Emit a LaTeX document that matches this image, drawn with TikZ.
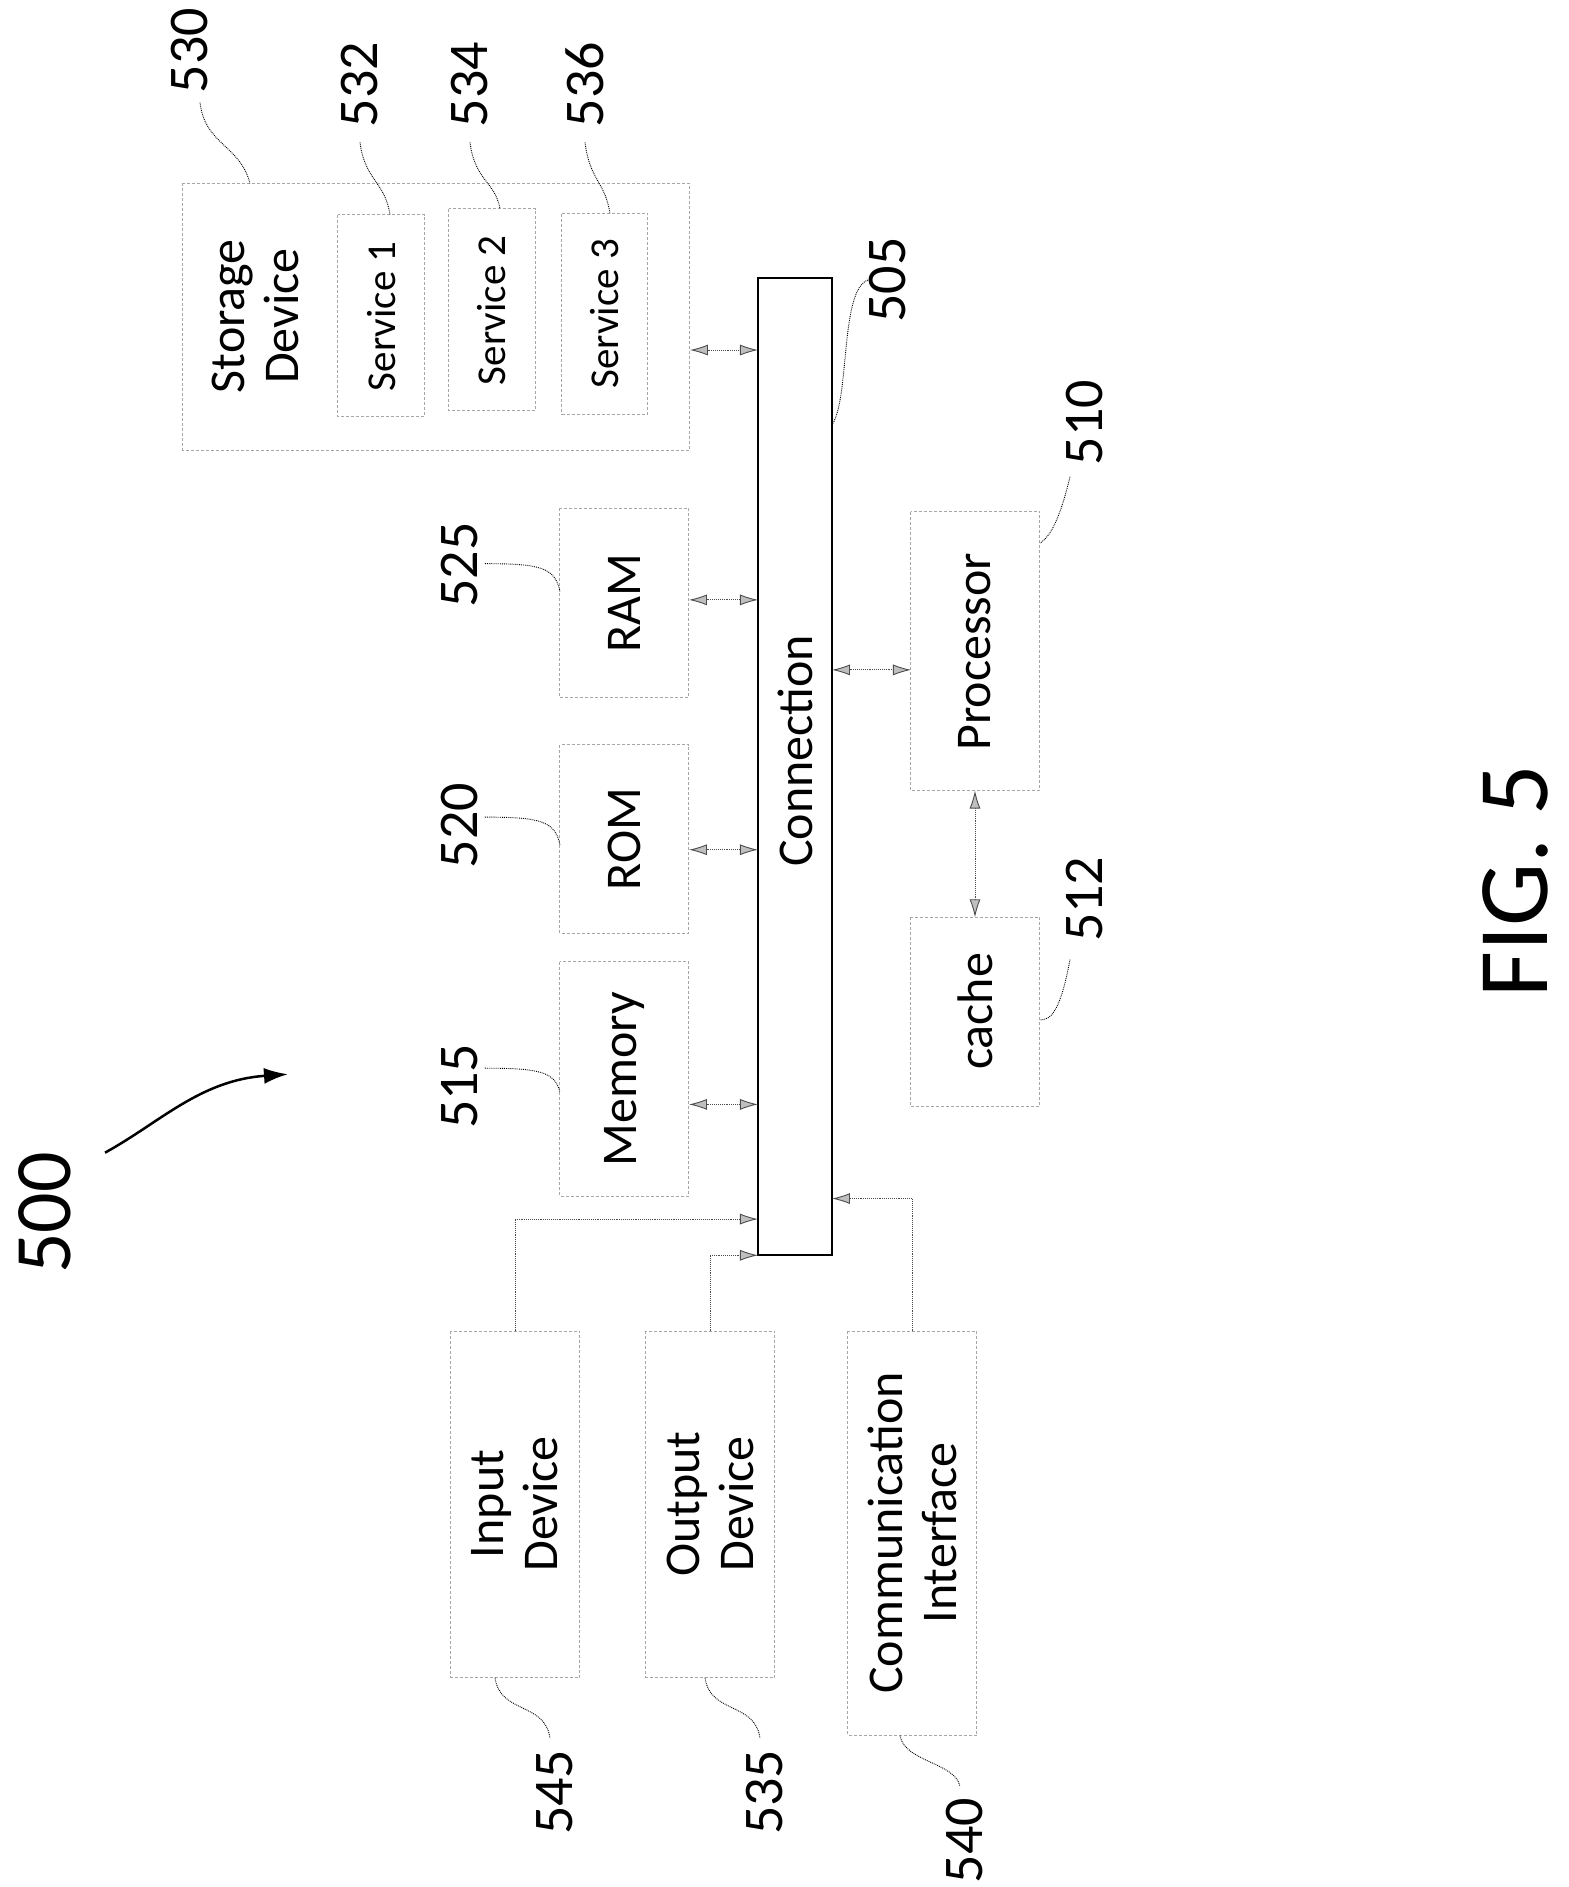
\documentclass[tikz,border=0pt]{standalone}
\usepackage{fontspec}
\setmainfont{Carlito}
\usetikzlibrary{arrows.meta}
\begin{document}
\begin{tikzpicture}[x=1pt,y=-1.207pt,
 box/.style={draw=gray!70,densely dashed,line width=1pt},
 t/.style={rotate=90,font=\fontsize{50}{54}\selectfont,align=center},
 ts/.style={rotate=90,font=\fontsize{41}{45}\selectfont},
 lab/.style={rotate=90,font=\fontsize{56}{60}\selectfont},
 ld/.style={densely dotted,line width=0.9pt},
 ar/.style={{Latex[length=18pt,width=11pt,fill=gray!50]}-{Latex[length=18pt,width=11pt,fill=gray!50]},densely dotted,line width=0.9pt,gray!60!black},
 ah/.style={-{Latex[length=18pt,width=11pt,fill=gray!50]},ld,gray!60!black}]
\useasboundingbox (0,0) rectangle (1569,1563.4);
% boxes
\draw[box] (183,152) rectangle (690,373); \node[t] (sd) at (255,262) {Storage\\Device};
\draw[box] (338,178) rectangle (425,345); \node[ts] (s1) at (382,262) {Service 1};
\draw[box] (449,173) rectangle (536,340); \node[ts] (s2) at (492,257) {Service 2};
\draw[box] (562,177) rectangle (648,343); \node[ts] (s3) at (605,260) {Service 3};
\draw[line width=2pt] (758,230) rectangle (832,1040); \node[t] (cn) at (795,622) {Connection};
\draw[box] (560,421) rectangle (689,578); \node[t] (ram) at (624,500) {RAM};
\draw[box] (560,617) rectangle (689,773); \node[t] (rom) at (624,695) {ROM};
\draw[box] (560,797) rectangle (689,991); \node[t] (mem) at (624,894) {Memory};
\draw[box] (911,424) rectangle (1040,655); \node[t] (pro) at (975,540) {Processor};
\draw[box] (911,760) rectangle (1040,917); \node[t] (cache) at (975,838) {cache};
\draw[box] (451,1103) rectangle (580,1390); \node[t] (in) at (515,1246) {Input\\Device};
\draw[box] (646,1103) rectangle (775,1390); \node[t] (out) at (710,1246) {Output\\Device};
\draw[box] (848,1103) rectangle (977,1438); \node[t] (com) at (912,1270) {Communication\\Interface};
% connectors
\coordinate (a1) at (690,290); \coordinate (b1) at (758,290); \draw[ar] (a1) -- (b1);
\coordinate (a2) at (689,497); \coordinate (b2) at (758,497); \draw[ar] (a2) -- (b2);
\coordinate (a3) at (689,704); \coordinate (b3) at (758,704); \draw[ar] (a3) -- (b3);
\coordinate (a4) at (689,915); \coordinate (b4) at (758,915); \draw[ar] (a4) -- (b4);
\coordinate (a5) at (832,555); \coordinate (b5) at (911,555); \draw[ar] (a5) -- (b5);
\coordinate (a6) at (975,655); \coordinate (b6) at (975,760); \draw[ar] (a6) -- (b6);
\coordinate (i0) at (515,1103); \coordinate (i1) at (758,1010);
\draw[ah] (i0) |- (i1);
\coordinate (o0) at (710,1103); \coordinate (o1) at (758,1040);
\draw[ah] (o0) |- (o1);
\coordinate (c0) at (912,1103); \coordinate (c1) at (832,993);
\draw[ah] (c0) |- (c1);
% labels
\node[lab] (l530) at (190,42) {530}; \draw[ld] (200,85) .. controls (205,120) and (240,120) .. (250,152);
\node[lab] (l532) at (360,70) {532}; \draw[ld] (360,118) .. controls (365,150) and (385,150) .. (390,178);
\node[lab] (l534) at (470,70) {534}; \draw[ld] (470,118) .. controls (475,150) and (495,150) .. (500,173);
\node[lab] (l536) at (585,70) {536}; \draw[ld] (585,118) .. controls (590,150) and (605,150) .. (610,177);
\node[lab] (l505) at (888,232) {505}; \draw[ld] (868,232) .. controls (840,240) and (850,330) .. (832,352);
\node[lab] (l510) at (1085,350) {510}; \draw[ld] (1070,395) .. controls (1060,430) and (1050,445) .. (1040,450);
\node[lab] (l525) at (460,468) {525}; \draw[ld] (485,467) .. controls (540,467) and (555,470) .. (560,490);
\node[lab] (l520) at (460,684) {520}; \draw[ld] (485,677) .. controls (540,677) and (555,680) .. (560,700);
\node[lab] (l515) at (460,900) {515}; \draw[ld] (485,885) .. controls (540,885) and (555,888) .. (560,905);
\node[lab] (l512) at (1085,745) {512}; \draw[ld] (1070,795) .. controls (1060,840) and (1050,845) .. (1040,845);
\node[lab] (l545) at (555,1485) {545}; \draw[ld] (495,1390) .. controls (500,1420) and (545,1410) .. (550,1440);
\node[lab] (l535) at (765,1485) {535}; \draw[ld] (705,1390) .. controls (710,1420) and (755,1410) .. (760,1440);
\node[lab] (l540) at (965,1525) {540}; \draw[ld] (900,1438) .. controls (905,1460) and (955,1460) .. (960,1480);
\node[rotate=90,font=\fontsize{80}{84}\selectfont] (l500) at (45,1005) {500};
\draw[line width=2.5pt,-{Latex[length=24pt,width=16pt]}] (105,955) .. controls (160,930) and (200,895) .. (288,890);
\node[rotate=90,font=\fontsize{100}{110}\selectfont] (fig) at (1515,730) {FIG. 5};
\end{tikzpicture}
\end{document}
